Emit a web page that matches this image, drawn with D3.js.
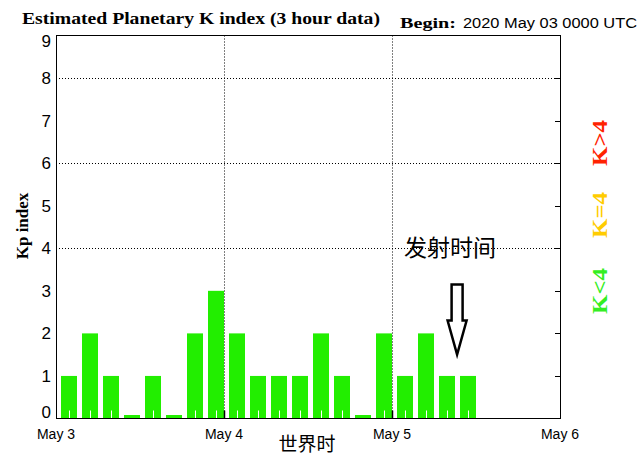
<!DOCTYPE html>
<html>
<head>
<meta charset="utf-8">
<script src="https://cdn.jsdelivr.net/npm/d3@7"></script>
<style>
  html, body { margin: 0; padding: 0; background: #fff; }
  svg { display: block; }
</style>
</head>
<body>
<script>
// ---- data ----
const startTime = "2020-05-03T00:00:00Z";
const kpValues = [1, 2, 1, 0, 1, 0, 2, 3, 2, 1, 1, 1, 2, 1, 0, 2, 1, 2, 1, 1];
const yTicks = [0, 1, 2, 3, 4, 5, 6, 7, 8, 9];
const gridValues = [4, 6, 8];
const dayTicks = ["2020-05-03", "2020-05-04", "2020-05-05", "2020-05-06"];
const dayLabels = ["May 3", "May 4", "May 5", "May 6"];
const legendLabels = ["K>4", "K=4", "K<4"];
const legendColors = ["#ff2200", "#ffcc00", "#33ee22"];
const titleText = "Estimated Planetary K index (3 hour data)";
const beginLabel = "Begin:";
const beginText = "2020 May 03 0000 UTC";
const yAxisTitle = "Kp index";
const xAxisTitle = "世界时";
const annotationText = "发射时间";
// arrow annotation in data units (hours after May 5 00:00, Kp)
const arrowHour = 9.3;
const arrowTop = 3.15, arrowHeadStart = 2.3, arrowTip = 1.5;

// ---- layout ----
const W = 640, H = 461;
const L = 56, R = 560, T = 35.5, B = 418.5;

const svg = d3.select("body").append("svg").attr("width", W).attr("height", H);
svg.append("rect").attr("width", W).attr("height", H).attr("fill", "#fff");

const x = d3.scaleUtc()
  .domain([new Date(dayTicks[0] + "T00:00:00Z"), new Date(dayTicks[3] + "T00:00:00Z")])
  .range([L, R]);
const y = d3.scaleLinear().domain([0, 9]).range([B, T]);

const t0 = new Date(startTime);
const bars = kpValues.map((v, i) => ({
  v,
  start: new Date(t0.getTime() + i * 3 * 3600e3),
  end: new Date(t0.getTime() + (i + 1) * 3 * 3600e3)
}));

// gridlines
const g = svg.append("g");
g.selectAll(".hg").data(gridValues).enter().append("line")
  .attr("x1", L).attr("x2", R)
  .attr("y1", d => Math.round(y(d)) + 0.5).attr("y2", d => Math.round(y(d)) + 0.5)
  .attr("stroke", "#000").attr("stroke-dasharray", "1,2");
g.selectAll(".vg").data(dayTicks.slice(1, 3)).enter().append("line")
  .attr("x1", d => Math.round(x(new Date(d + "T00:00:00Z"))) + 0.5)
  .attr("x2", d => Math.round(x(new Date(d + "T00:00:00Z"))) + 0.5)
  .attr("y1", T).attr("y2", B)
  .attr("stroke", "#000").attr("stroke-dasharray", "1,2");

// bars
const barG = svg.append("g");
barG.selectAll("rect").data(bars).enter().append("rect")
  .attr("x", d => Math.round(x(d.start)) + 5)
  .attr("width", d => Math.round(x(d.end)) - Math.round(x(d.start)) - 5)
  .attr("y", d => Math.min(y(d.v), B - 3.5))
  .attr("height", d => B - Math.min(y(d.v), B - 3.5))
  .attr("fill", "#22ee00");
barG.selectAll("line").data(bars.filter(d => d.v > 0)).enter().append("line")
  .attr("x1", d => Math.round((x(d.start) + 5 + x(d.end)) / 2) + 0.5)
  .attr("x2", d => Math.round((x(d.start) + 5 + x(d.end)) / 2) + 0.5)
  .attr("y1", B).attr("y2", B - 8)
  .attr("stroke", "#fff").attr("stroke-width", 1);

// frame
svg.append("rect").attr("x", L + 0.5).attr("y", T).attr("width", R - L).attr("height", B - T)
  .attr("fill", "none").attr("stroke", "#000").attr("stroke-width", 1);

// right axis ticks
svg.append("g").selectAll("line").data(yTicks.slice(1, 9)).enter().append("line")
  .attr("x1", R - 5).attr("x2", R + 0.5)
  .attr("y1", d => Math.round(y(d)) + 0.5).attr("y2", d => Math.round(y(d)) + 0.5)
  .attr("stroke", "#000");
// bottom axis ticks
svg.append("g").selectAll("line").data(dayTicks.slice(1, 3)).enter().append("line")
  .attr("x1", d => Math.round(x(new Date(d + "T00:00:00Z"))) + 0.5)
  .attr("x2", d => Math.round(x(new Date(d + "T00:00:00Z"))) + 0.5)
  .attr("y1", B).attr("y2", B - 8)
  .attr("stroke", "#000").attr("stroke-width", 1.5);

// y tick labels (end labels kept inside the frame, as in the reference)
svg.append("g").selectAll("text").data(yTicks).enter().append("text")
  .attr("x", 51)
  .attr("y", d => Math.max(T + 5, Math.min(B - 6.5, y(d))) + 6)
  .attr("text-anchor", "end")
  .attr("font-family", "Liberation Sans, Arial, sans-serif")
  .attr("font-size", 17).attr("fill", "#000")
  .text(d => d);

// x tick labels
svg.append("g").selectAll("text").data(dayTicks).enter().append("text")
  .attr("x", d => x(new Date(d + "T00:00:00Z")))
  .attr("y", 439)
  .attr("text-anchor", "middle")
  .attr("font-family", "Liberation Sans, Arial, sans-serif")
  .attr("font-size", 14).attr("fill", "#000")
  .text((d, i) => dayLabels[i]);

// title
svg.append("text").attr("x", 22).attr("y", 24)
  .attr("font-family", "Liberation Serif, DejaVu Serif, serif")
  .attr("font-weight", "bold").attr("font-size", 16)
  .attr("textLength", 358).attr("lengthAdjust", "spacingAndGlyphs")
  .text(titleText);
svg.append("text").attr("x", 400).attr("y", 28)
  .attr("font-family", "Liberation Serif, DejaVu Serif, serif")
  .attr("font-weight", "bold").attr("font-size", 15)
  .attr("textLength", 56).attr("lengthAdjust", "spacingAndGlyphs")
  .text(beginLabel);
svg.append("text").attr("x", 463).attr("y", 28)
  .attr("font-family", "Liberation Sans, Arial, sans-serif")
  .attr("font-size", 14)
  .attr("textLength", 174).attr("lengthAdjust", "spacingAndGlyphs")
  .text(beginText);

// y axis title
svg.append("text")
  .attr("transform", "translate(28,226) rotate(-90)")
  .attr("text-anchor", "middle")
  .attr("font-family", "Liberation Serif, DejaVu Serif, serif")
  .attr("font-weight", "bold").attr("font-size", 17)
  .text(yAxisTitle);

// x axis title
svg.append("text").attr("x", 307).attr("y", 451)
  .attr("text-anchor", "middle")
  .attr("font-family", "Noto Sans CJK SC, sans-serif")
  .attr("font-size", 19)
  .text(xAxisTitle);

// legend
const legendY = [143, 215, 291];
svg.append("g").selectAll("text").data(legendLabels).enter().append("text")
  .attr("transform", (d, i) => `translate(607,${legendY[i]}) rotate(-90)`)
  .attr("text-anchor", "middle")
  .attr("font-family", "Liberation Serif, DejaVu Serif, serif")
  .attr("font-weight", "bold").attr("font-size", 20)
  .attr("textLength", 46).attr("lengthAdjust", "spacingAndGlyphs")
  .attr("fill", (d, i) => legendColors[i])
  .text(d => d);

// annotation
const day5 = new Date(dayTicks[2] + "T00:00:00Z").getTime();
const ax = x(new Date(day5 + arrowHour * 3600e3));
svg.append("text").attr("x", ax - 7).attr("y", 256)
  .attr("text-anchor", "middle")
  .attr("font-family", "Noto Sans CJK SC, sans-serif")
  .attr("font-size", 23)
  .text(annotationText);
const sw = 5.5, hw = 9.5;
const arrowPts = [
  [ax - sw, y(arrowTop)], [ax + sw, y(arrowTop)], [ax + sw, y(arrowHeadStart)],
  [ax + hw, y(arrowHeadStart)], [ax, y(arrowTip)], [ax - hw, y(arrowHeadStart)],
  [ax - sw, y(arrowHeadStart)]
];
svg.append("path")
  .attr("d", d3.line()(arrowPts) + "Z")
  .attr("fill", "none").attr("stroke", "#000").attr("stroke-width", 2.5);
</script>
</body>
</html>
